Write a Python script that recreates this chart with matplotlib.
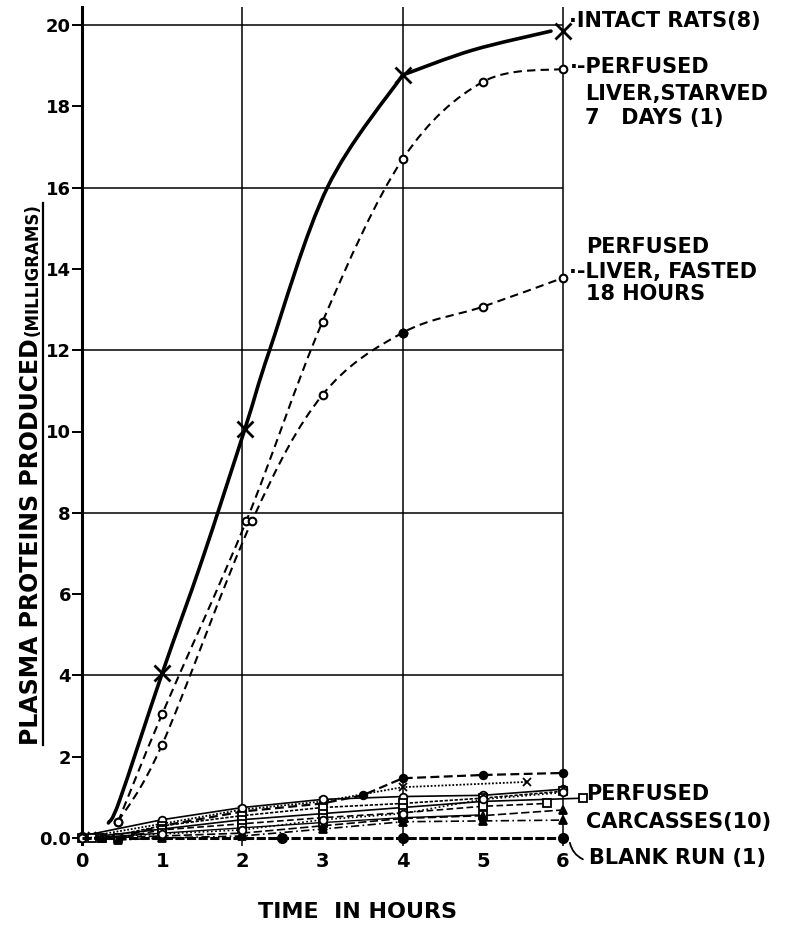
import numpy as np
import matplotlib
matplotlib.use("Agg")
import matplotlib.pyplot as plt
from matplotlib.path import Path
from matplotlib.patches import PathPatch
from matplotlib.lines import Line2D

plt.rcParams['font.family'] = ['DejaVu Sans']
plt.rcParams['font.weight'] = 'bold'

# --- data (hours, mg) ---
# intact rats: the hand-drawn curve bends at the 4 h point, so two pieces
intact_rise_x = [0.33, 0.47, 1.0, 1.5, 2.03, 2.34, 3.06, 4.0]
intact_rise_y = [0.37, 0.93, 4.05, 6.85, 10.05, 12.0, 16.0, 18.77]
intact_top_x = [4.0, 4.87, 5.85]
intact_top_y = [18.77, 19.38, 19.85]
intact_pts_x = [1.0, 2.03, 4.0, 6.0]
intact_pts_y = [4.05, 10.05, 18.77, 19.85]

starved_x = [0.45, 1.0, 2.05, 3.0, 4.0, 5.0, 6.0]
starved_y = [0.4, 3.05, 7.8, 12.7, 16.7, 18.6, 18.92]

fasted_x = [0.45, 1.0, 2.12, 3.0, 4.0, 5.0, 6.0]
fasted_y = [0.4, 2.3, 7.8, 10.9, 12.43, 13.07, 13.78]

# ten perfused carcasses
car_x = [
    [0.45, 1.0, 2.0, 3.0, 3.5, 4.0, 5.0, 6.0],
    [0.12, 1.0, 2.0, 3.0, 4.0, 5.55],
    [0.0, 1.0, 2.0, 3.0, 4.0, 5.0, 6.0],
    [0.25, 1.0, 2.0, 3.0, 4.0, 5.0, 6.0],
    [0.0, 1.0, 2.0, 3.0, 4.0, 5.0, 6.25],
    [0.45, 1.0, 2.0, 3.0, 4.0, 5.0, 5.8],
    [0.12, 1.0, 2.0, 3.0, 4.0, 5.0],
    [0.25, 1.0, 2.0, 3.0, 4.0, 5.0, 6.0],
    [0.45, 1.0, 2.0, 3.0, 4.0, 5.0, 6.0],
    [0.0, 1.0, 2.0, 3.0, 4.0, 5.0, 6.0],
]
car_y = [
    [0.0, 0.3, 0.65, 0.85, 1.05, 1.47, 1.55, 1.6],
    [0.05, 0.35, 0.7, 0.9, 1.25, 1.38],
    [0.05, 0.45, 0.75, 0.95, 1.02, 1.05, 1.2],
    [0.0, 0.3, 0.55, 0.75, 0.85, 0.98, 1.15],
    [0.0, 0.22, 0.45, 0.6, 0.75, 0.9, 0.98],
    [0.0, 0.2, 0.35, 0.5, 0.62, 0.78, 0.85],
    [0.0, 0.12, 0.25, 0.38, 0.5, 0.57],
    [0.0, 0.05, 0.12, 0.3, 0.48, 0.55, 0.69],
    [-0.05, 0.0, 0.05, 0.22, 0.4, 0.42, 0.44],
    [0.0, 0.1, 0.2, 0.45, 0.6, 0.95, 1.12],
]
car_style = [
    dict(ls=(0, (4, 2)), marker='o', mfc='black', lw=1.6),
    dict(ls=(0, (1, 1)), marker='x', mfc='none', lw=1.3),
    dict(ls='-', marker='o', mfc='white', lw=1.2),
    dict(ls=(0, (2, 1)), marker='s', mfc='white', lw=1.2),
    dict(ls='-', marker='s', mfc='white', lw=1.2),
    dict(ls=(0, (4, 2)), marker='s', mfc='white', lw=1.2),
    dict(ls='-', marker='s', mfc='white', lw=1.0),
    dict(ls=(0, (5, 2)), marker='^', mfc='black', lw=1.2),
    dict(ls=(0, (5, 2, 1, 2)), marker='^', mfc='black', lw=1.2),
    dict(ls=(0, (1, 1.5)), marker='o', mfc='white', lw=1.2),
]

blank_x = [0.0, 1.0, 2.0, 2.5, 3.0, 4.0, 5.0, 6.0]
blank_y = [0.0, 0.0, 0.0, 0.0, 0.0, 0.0, 0.0, 0.0]

yticks = [0, 2, 4, 6, 8, 10, 12, 14, 16, 18, 20]
ytick_labels = ['0.0', '2', '4', '6', '8', '10', '12', '14', '16', '18', '20']
xticks = [0, 1, 2, 3, 4, 5, 6]


def smooth_path(xs, ys):
    # Catmull-Rom through the read points, drawn as cubic beziers
    p = np.column_stack([xs, ys]).astype(float)
    pts = np.vstack([p[0], p, p[-1]])
    verts = [tuple(p[0])]
    codes = [Path.MOVETO]
    for i in range(1, len(pts) - 2):
        c1 = pts[i] + (pts[i + 1] - pts[i - 1]) / 6.0
        c2 = pts[i + 1] - (pts[i + 2] - pts[i]) / 6.0
        verts += [tuple(c1), tuple(c2), tuple(pts[i + 1])]
        codes += [Path.CURVE4] * 3
    return Path(verts, codes)


fig = plt.figure(figsize=(7.85, 9.26), dpi=100)
W, H = 785, 926
px_unit = 40.65
y_lo, y_hi = -0.15, 20.45
bot_px = 838 - y_lo * px_unit
top_px = 838 - y_hi * px_unit
ax = fig.add_axes([82 / W, 1 - bot_px / H, (563 - 82) / W, (bot_px - top_px) / H])
ax.set_xlim(0, 6)
ax.set_ylim(y_lo, y_hi)

for s in ['top', 'right', 'bottom']:
    ax.spines[s].set_visible(False)
ax.spines['left'].set_linewidth(2.2)

# grid
ax.hlines([4, 8, 12, 16, 20], 0, 6, color='black', lw=1.1, zorder=1)
ax.vlines([2, 4, 6], -0.2, y_hi, color='black', lw=1.1, zorder=1, clip_on=False)

ax.set_yticks(yticks)
ax.set_yticklabels(ytick_labels)
ax.set_xticks(xticks)
ax.tick_params(axis='y', length=7, width=1.4, direction='out', pad=1, labelsize=13)
ax.tick_params(axis='x', length=0, pad=6, labelsize=14)

# main curves
for cx, cy in [(intact_rise_x, intact_rise_y), (intact_top_x, intact_top_y)]:
    ax.add_patch(PathPatch(smooth_path(cx, cy), fill=False, lw=2.6, ec='black',
                           capstyle='round', joinstyle='round', zorder=3))
ax.plot(intact_pts_x, intact_pts_y, ls='none', marker='x', ms=12, mew=2.0,
        color='black', zorder=4, clip_on=False)

ax.add_patch(PathPatch(smooth_path(starved_x, starved_y), fill=False, lw=1.5,
                       ec='black', ls=(0, (4, 2.5)), zorder=3))
ax.plot(starved_x, starved_y, ls='none', marker='o', ms=5.5, mew=1.5,
        mfc='white', color='black', zorder=4, clip_on=False)

ax.add_patch(PathPatch(smooth_path(fasted_x, fasted_y), fill=False, lw=1.5,
                       ec='black', ls=(0, (4, 2.5)), zorder=3))
ax.plot(fasted_x, fasted_y, ls='none', marker='o', ms=5.5, mew=1.5,
        mfc='white', color='black', zorder=4, clip_on=False)
ax.plot([fasted_x[4]], [fasted_y[4]], ls='none', marker='o', ms=6,
        color='black', zorder=5)

# carcasses
for xs, ys, st in zip(car_x, car_y, car_style):
    ax.plot(xs, ys, color='black', ls=st['ls'], lw=st['lw'], marker=st['marker'],
            ms=5.5, mew=1.3, mfc=st['mfc'], mec='black', zorder=3, clip_on=False)

# blank run
ax.plot(blank_x, blank_y, color='black', lw=2.2, ls=(0, (3, 0.8)),
        marker='o', markevery=[3, 5, 7], ms=7, zorder=4, clip_on=False)

# right-hand labels
fs = 15
ax.text(6.07, 20.1, '·INTACT RATS(8)', fontsize=fs, va='center', ha='left', clip_on=False)
ax.text(6.08, 18.97, '·-PERFUSED', fontsize=fs, va='center', ha='left', clip_on=False)
ax.text(6.27, 18.3, 'LIVER,STARVED', fontsize=fs, va='center', ha='left', clip_on=False)
ax.text(6.27, 17.72, '7   DAYS (1)', fontsize=fs, va='center', ha='left', clip_on=False)
ax.text(6.29, 14.53, 'PERFUSED', fontsize=fs, va='center', ha='left', clip_on=False)
ax.text(6.08, 13.92, '·-LIVER, FASTED', fontsize=fs, va='center', ha='left', clip_on=False)
ax.text(6.29, 13.39, '18 HOURS', fontsize=fs, va='center', ha='left', clip_on=False)
ax.text(6.29, 1.08, 'PERFUSED', fontsize=fs, va='center', ha='left', clip_on=False)
ax.text(6.29, 0.39, 'CARCASSES(10)', fontsize=fs, va='center', ha='left', clip_on=False)
ax.text(6.33, -0.49, 'BLANK RUN (1)', fontsize=fs, va='center', ha='left', clip_on=False)
ax.annotate('', xy=(6.08, -0.05), xytext=(6.28, -0.55),
            arrowprops=dict(arrowstyle='-', lw=1.3, color='black',
                            connectionstyle='arc3,rad=-0.3'),
            annotation_clip=False)

# axis titles
fig.text(358 / W, 1 - 912 / H, 'TIME  IN HOURS', fontsize=16, ha='center', va='center')

t1 = fig.text(31 / W, 1 - 745 / H, 'PLASMA PROTEINS PRODUCED', fontsize=17,
              rotation=90, ha='center', va='bottom')
fig.canvas.draw()
bb = t1.get_window_extent()
t2 = fig.text(33 / W, (bb.y1 + 2) / H, '(MILLIGRAMS)', fontsize=12,
              rotation=90, ha='center', va='bottom')
fig.canvas.draw()
bb2 = t2.get_window_extent()
fig.add_artist(Line2D([43 / W, 43 / W], [bb.y0 / H, bb2.y1 / H], color='black',
                      lw=1.6, transform=fig.transFigure))

fig.savefig('out.png', dpi=100)
